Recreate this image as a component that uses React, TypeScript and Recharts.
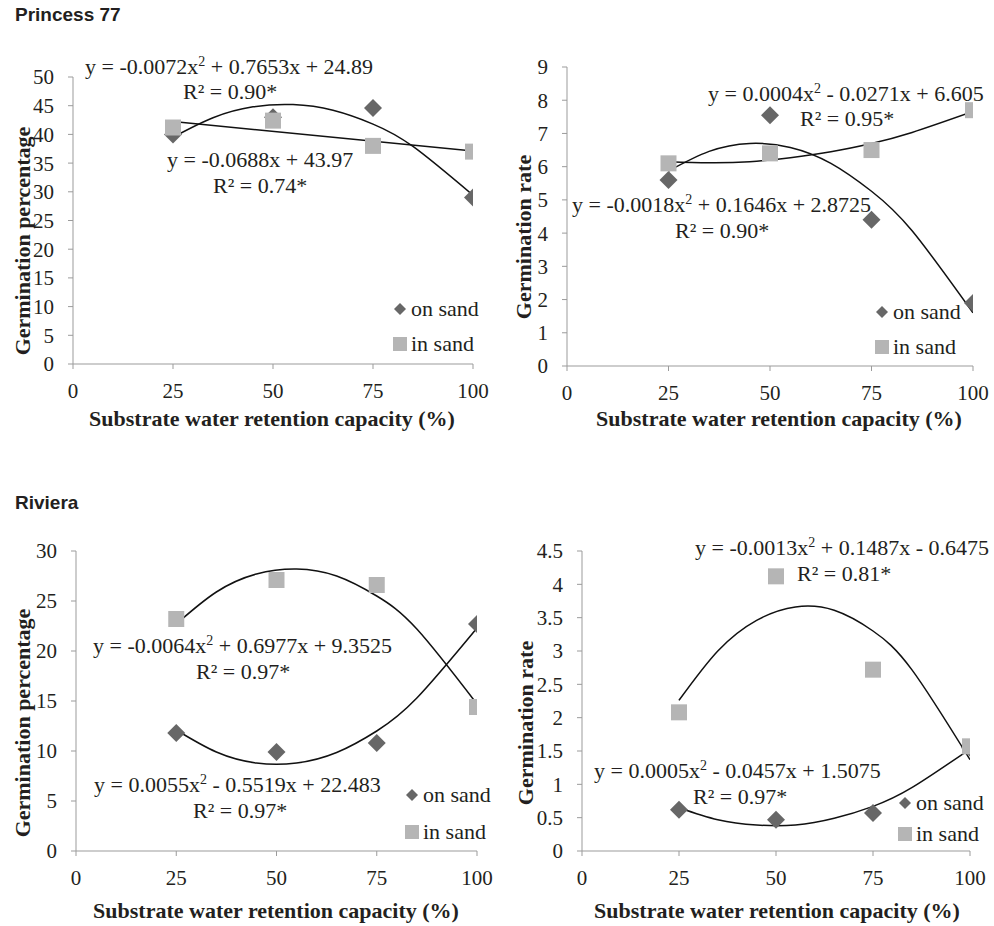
import React from 'react';
import { ComposedChart, Scatter, Line, XAxis, YAxis } from 'recharts';

// ---------- data ----------
const xCats = [25, 50, 75, 100];
const xTicks = [0, 25, 50, 75, 100];
const trendX = [25, 35, 45, 55, 65, 75, 85, 100];
const linX = [25, 100];

// Princess 77 – germination percentage
const p77PctOn = [40.0, 43.0, 44.6, 29.0];
const p77PctIn = [41.2, 42.4, 38.0, 37.0];
const p77PctOnFit = [39.5, 42.9, 44.8, 45.2, 44.2, 41.8, 37.9, 29.4];
const p77PctInFit = [42.25, 37.09];

// Princess 77 – germination rate
const p77RateOn = [5.6, 7.55, 4.4, 1.9];
const p77RateIn = [6.1, 6.4, 6.5, 7.7];
const p77RateOnFit = [5.87, 6.46, 6.7, 6.58, 6.1, 5.26, 4.07, 1.6];
const p77RateInFit = [6.15, 6.12, 6.15, 6.27, 6.45, 6.7, 7.03, 7.66];

// Riviera – germination percentage
const rivPctOn = [11.8, 9.9, 10.8, 22.7];
const rivPctIn = [23.2, 27.1, 26.6, 14.4];
const rivPctOnFit = [12.1, 9.9, 8.8, 8.8, 9.85, 12.0, 15.3, 22.3];
const rivPctInFit = [22.7, 25.9, 27.7, 28.2, 27.5, 25.5, 22.2, 14.7];

// Riviera – germination rate
const rivRateOn = [0.62, 0.47, 0.57, 1.55];
const rivRateIn = [2.08, 4.12, 2.72, 1.57];
const rivRateOnFit = [0.65, 0.47, 0.39, 0.39, 0.49, 0.67, 0.95, 1.53];
const rivRateInFit = [2.26, 3.0, 3.46, 3.66, 3.61, 3.3, 2.72, 1.37];

const pctTicks50 = [0, 5, 10, 15, 20, 25, 30, 35, 40, 45, 50];
const rateTicks9 = [0, 1, 2, 3, 4, 5, 6, 7, 8, 9];
const pctTicks30 = [0, 5, 10, 15, 20, 25, 30];
const rateTicks45 = [0, 0.5, 1, 1.5, 2, 2.5, 3, 3.5, 4, 4.5];

const xTitle = 'Substrate water retention capacity (%)';
const legendOn = 'on sand';
const legendIn = 'in sand';

// ---------- style ----------
const SERIF = '"Liberation Serif", "Times New Roman", serif';
const SANS = '"Liberation Sans", Arial, sans-serif';
const TEXT = '#231f20';
const AXIS = '#9b9b9b';
const DARK = '#676767';
const LIGHT = '#b5b5b5';
const TICK_FS = 21;
const FS = 22;
const TITLE_FS = 22;

const toPts = (xs: number[], ys: number[]) => xs.map((x, i) => ({ x, y: ys[i] }));

const DiamondShape = (p: any) => {
  const { cx, cy } = p;
  const r = 9;
  return <polygon points={`${cx},${cy - r} ${cx + r},${cy} ${cx},${cy + r} ${cx - r},${cy}`} fill={DARK} />;
};
const SquareShape = (p: any) => {
  const { cx, cy } = p;
  return <rect x={cx - 8} y={cy - 8} width={16} height={16} fill={LIGHT} />;
};

type PanelProps = {
  left: number; top: number; width: number; height: number;
  margin: { top: number; right: number; bottom: number; left: number };
  yWidth: number;
  yDomain: [number, number]; yTicks: number[];
  on: number[]; inn: number[];
  onFit: number[]; inFit: number[]; inFitX: number[]; inFitType: 'natural' | 'linear';
};

function Panel(p: PanelProps) {
  const tickStyle = { fontFamily: SERIF, fontSize: TICK_FS, fill: TEXT };
  return (
    <div style={{ position: 'absolute', left: p.left, top: p.top, width: p.width, height: p.height }}>
      <ComposedChart width={p.width} height={p.height} margin={p.margin}>
        <XAxis
          dataKey="x" type="number" domain={[0, 100]} ticks={xTicks} interval={0}
          stroke={AXIS} tickLine={{ stroke: AXIS }} tick={tickStyle} tickSize={5} tickMargin={14}
          height={40} allowDataOverflow
        />
        <YAxis
          dataKey="y" type="number" domain={p.yDomain} ticks={p.yTicks} interval={0}
          stroke={AXIS} tickLine={{ stroke: AXIS }} tick={tickStyle} tickSize={5} tickMargin={14}
          width={p.yWidth} allowDataOverflow
        />
        <Scatter data={toPts(xCats, p.on)} shape={DiamondShape} isAnimationActive={false} />
        <Scatter data={toPts(xCats, p.inn)} shape={SquareShape} isAnimationActive={false} />
        <Line data={toPts(trendX, p.onFit)} dataKey="y" type="natural" stroke="#111" strokeWidth={1.5} dot={false} activeDot={false} isAnimationActive={false} />
        <Line data={toPts(p.inFitX, p.inFit)} dataKey="y" type={p.inFitType} stroke="#111" strokeWidth={1.5} dot={false} activeDot={false} isAnimationActive={false} />
      </ComposedChart>
    </div>
  );
}

function Eq({ x, y, text }: { x: number; y: number; text: string }) {
  const segs = text.split('^2');
  return (
    <text x={x} y={y} fontFamily={SERIF} fontSize={FS} fill={TEXT} style={{ whiteSpace: 'pre' }}>
      {segs.map((s, i) => (
        <React.Fragment key={i}>
          <tspan dy={i > 0 ? 8 : 0}>{s}</tspan>
          {i < segs.length - 1 && <tspan dy={-8} fontSize={14}>2</tspan>}
        </React.Fragment>
      ))}
    </text>
  );
}

function Legend({ x, y1, y2 }: { x: number; y1: number; y2: number }) {
  const r = 6;
  return (
    <g>
      <polygon points={`${x},${y1 - r} ${x + r},${y1} ${x},${y1 + r} ${x - r},${y1}`} fill={DARK} />
      <text x={x + 11} y={y1 + 7} fontFamily={SERIF} fontSize={FS} fill={TEXT}>{legendOn}</text>
      <rect x={x - 7} y={y2 - 7} width={14} height={14} fill={LIGHT} />
      <text x={x + 11} y={y2 + 7} fontFamily={SERIF} fontSize={FS} fill={TEXT}>{legendIn}</text>
    </g>
  );
}

function YTitle({ cx, cy, text }: { cx: number; cy: number; text: string }) {
  return (
    <text x={cx} y={cy} transform={`rotate(-90 ${cx} ${cy})`} textAnchor="middle" dominantBaseline="central"
      fontFamily={SERIF} fontWeight="bold" fontSize={TITLE_FS} fill={TEXT}>{text}</text>
  );
}

function XTitle({ cx, y }: { cx: number; y: number }) {
  return (
    <text x={cx} y={y} textAnchor="middle" fontFamily={SERIF} fontWeight="bold" fontSize={TITLE_FS} fill={TEXT}>{xTitle}</text>
  );
}

export default function App() {
  return (
    <div style={{ position: 'absolute', left: 0, top: 0, width: 994, height: 926, background: '#fff', overflow: 'hidden' }}>
      <Panel left={0} top={0} width={497} height={463}
        margin={{ top: 77, right: 24, bottom: 59, left: 0 }} yWidth={73}
        yDomain={[0, 50]} yTicks={pctTicks50}
        on={p77PctOn} inn={p77PctIn} onFit={p77PctOnFit} inFit={p77PctInFit} inFitX={linX} inFitType="linear" />
      <Panel left={497} top={0} width={497} height={463}
        margin={{ top: 67, right: 21, bottom: 57, left: 0 }} yWidth={70}
        yDomain={[0, 9]} yTicks={rateTicks9}
        on={p77RateOn} inn={p77RateIn} onFit={p77RateOnFit} inFit={p77RateInFit} inFitX={trendX} inFitType="natural" />
      <Panel left={0} top={463} width={497} height={463}
        margin={{ top: 88, right: 20, bottom: 35, left: 0 }} yWidth={76}
        yDomain={[0, 30]} yTicks={pctTicks30}
        on={rivPctOn} inn={rivPctIn} onFit={rivPctOnFit} inFit={rivPctInFit} inFitX={trendX} inFitType="natural" />
      <Panel left={497} top={463} width={497} height={463}
        margin={{ top: 88, right: 24, bottom: 35, left: 0 }} yWidth={85}
        yDomain={[0, 4.5]} yTicks={rateTicks45}
        on={rivRateOn} inn={rivRateIn} onFit={rivRateOnFit} inFit={rivRateInFit} inFitX={trendX} inFitType="natural" />

      <svg width={994} height={926} style={{ position: 'absolute', left: 0, top: 0, pointerEvents: 'none' }}>
        <text x={15} y={21} fontFamily={SANS} fontWeight="bold" fontSize={19} fill={TEXT}>Princess 77</text>
        <text x={15} y={509} fontFamily={SANS} fontWeight="bold" fontSize={19} fill={TEXT}>Riviera</text>

        {/* Panel 1 */}
        <Eq x={85} y={74} text="y = -0.0072x^2 + 0.7653x + 24.89" />
        <Eq x={183} y={99} text="R² = 0.90*" />
        <Eq x={167} y={167} text="y = -0.0688x + 43.97" />
        <Eq x={213} y={193} text="R² = 0.74*" />
        <Legend x={400} y1={309} y2={344} />
        <YTitle cx={22} cy={241} text="Germination percentage" />
        <XTitle cx={272} y={426} />

        {/* Panel 2 */}
        <Eq x={708} y={101} text="y = 0.0004x^2 - 0.0271x + 6.605" />
        <Eq x={800} y={126} text="R² = 0.95*" />
        <Eq x={572} y={212} text="y = -0.0018x^2 + 0.1646x + 2.8725" />
        <Eq x={675} y={238} text="R² = 0.90*" />
        <Legend x={882} y1={312} y2={347} />
        <YTitle cx={523} cy={237} text="Germination rate" />
        <XTitle cx={779} y={426} />

        {/* Panel 3 */}
        <Eq x={93} y={653} text="y = -0.0064x^2 + 0.6977x + 9.3525" />
        <Eq x={196} y={679} text="R² = 0.97*" />
        <Eq x={94} y={792} text="y = 0.0055x^2 - 0.5519x + 22.483" />
        <Eq x={193} y={818} text="R² = 0.97*" />
        <Legend x={412} y1={795} y2={832} />
        <YTitle cx={22} cy={723} text="Germination percentage" />
        <XTitle cx={276} y={918} />

        {/* Panel 4 */}
        <Eq x={695} y={555} text="y = -0.0013x^2 + 0.1487x - 0.6475" />
        <Eq x={797} y={581} text="R² = 0.81*" />
        <Eq x={594} y={778} text="y = 0.0005x^2 - 0.0457x + 1.5075" />
        <Eq x={693} y={804} text="R² = 0.97*" />
        <Legend x={905} y1={803} y2={834} />
        <YTitle cx={525} cy={723} text="Germination rate" />
        <XTitle cx={777} y={918} />
      </svg>
    </div>
  );
}
